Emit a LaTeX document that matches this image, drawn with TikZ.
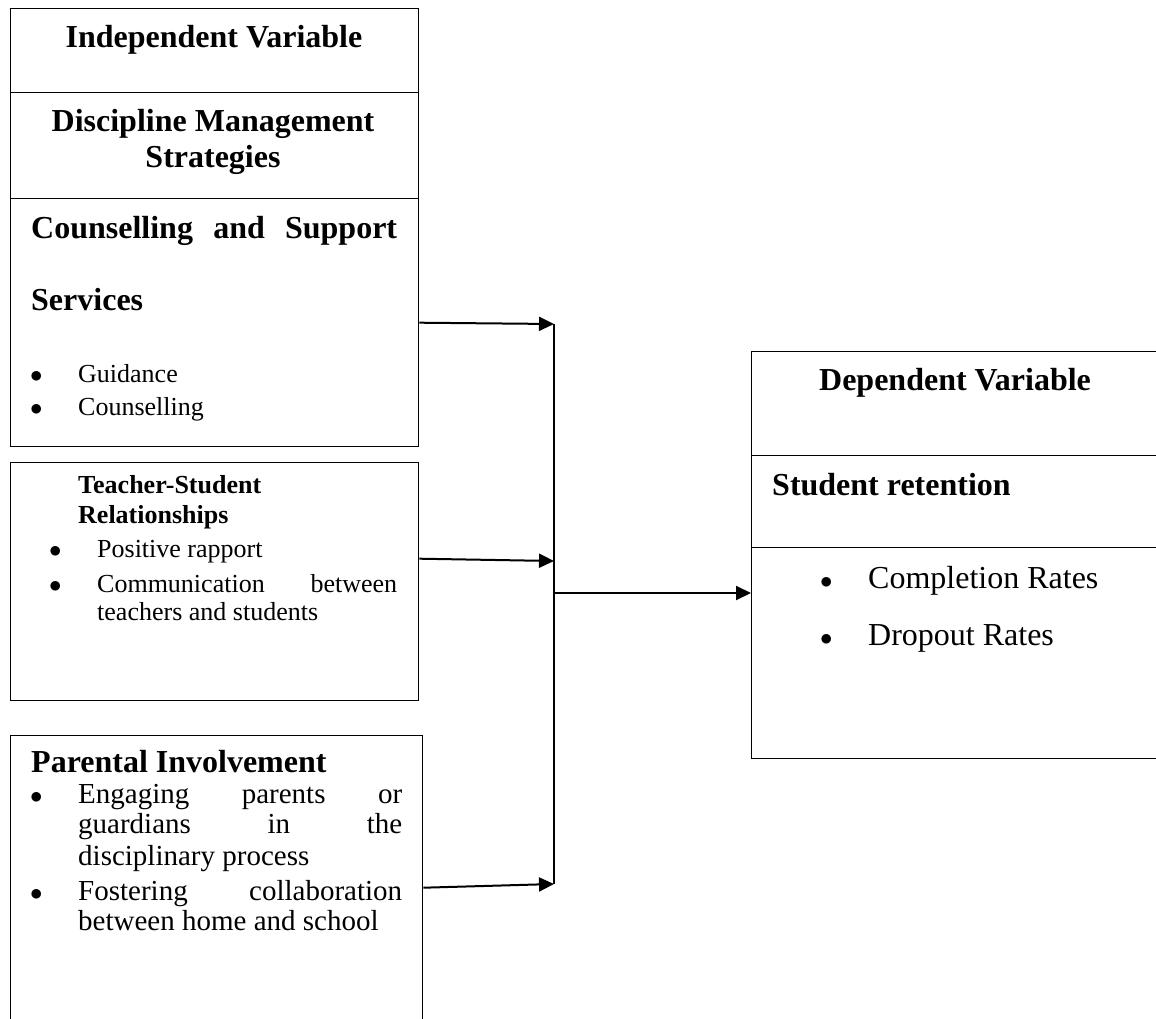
\documentclass[tikz,border=0pt]{standalone}
\usepackage{fontspec}
\setmainfont{Liberation Serif}
\usetikzlibrary{arrows.meta}

\tikzset{
  cell/.style={draw, line width=1.4pt, inner sep=0pt, anchor=north west},
  txt/.style={inner sep=0pt, anchor=base west},
  hbig/.style={font=\fontsize{32}{38}\selectfont\bfseries},
  hmid/.style={font=\fontsize{26}{31}\selectfont\bfseries},
  tmid/.style={font=\fontsize{26}{31}\selectfont},
  tpar/.style={font=\fontsize{29}{34}\selectfont},
  tbig/.style={font=\fontsize{32}{38}\selectfont},
  link/.style={line width=2pt, -{Triangle[length=15pt,width=14pt]}},
}
\newcommand{\bul}[1]{\makebox[#1][l]{$\bullet$}}

\begin{document}
\begin{tikzpicture}[x=1pt, y=-1pt]
    \useasboundingbox (0,0) rectangle (1156,1019);
    \clip (0,0) rectangle (1156,1019);

    % Cajas de la izquierda (variable independiente)
    \node[cell, minimum width=408pt, minimum height=84pt] (iv) at (10,8) {};
    \node[cell, minimum width=408pt, minimum height=106pt] (dms) at (10,92) {};
    \node[cell, minimum width=408pt, minimum height=248pt] (css) at (10,198) {};
    \node[cell, minimum width=408pt, minimum height=238pt] (trs) at (10,462) {};
    \node[cell, minimum width=412pt, minimum height=304pt] (pi) at (10,735) {};

    % Cajas de la derecha (variable dependiente), cortadas por el borde
    \node[cell, minimum width=420pt, minimum height=104pt] (dv) at (751,351) {};
    \node[cell, minimum width=420pt, minimum height=92pt] (sr) at (751,455) {};
    \node[cell, minimum width=420pt, minimum height=211pt] (srb) at (751,547) {};

    % Textos
    \node[txt, hbig, anchor=base] (ivt) at (214,48) {Independent Variable};
    \node[txt, hbig, anchor=base] (dmt1) at (213,132) {Discipline Management};
    \node[txt, hbig, anchor=base] (dmt2) at (213,168) {Strategies};

    \node[txt, hbig] (cst1) at (31,238) {\makebox[366pt][s]{Counselling and Support}};
    \node[txt, hbig] (cst2) at (31,310) {Services};
    \node[txt, tmid] (cs1) at (30,382) {\bul{48pt}Guidance};
    \node[txt, tmid] (cs2) at (30,415) {\bul{48pt}Counselling};

    \node[txt, hmid] (trt1) at (78,493) {Teacher-Student};
    \node[txt, hmid] (trt2) at (78,523) {Relationships};
    \node[txt, tmid] (tr1) at (49,557) {\bul{48pt}Positive rapport};
    \node[txt, tmid] (tr2) at (49,592) {\bul{48pt}\makebox[300pt][s]{Communication between}};
    \node[txt, tmid] (tr3) at (97,620) {teachers and students};

    \node[txt, hbig] (pit) at (31,772) {Parental Involvement};
    \node[txt, tpar] (pi1) at (30,803) {\bul{48pt}\makebox[324pt][s]{Engaging parents or}};
    \node[txt, tpar] (pi2) at (78,833) {\makebox[324pt][s]{guardians in the}};
    \node[txt, tpar] (pi3) at (78,865) {disciplinary process};
    \node[txt, tpar] (pi4) at (30,900) {\bul{48pt}\makebox[324pt][s]{Fostering collaboration}};
    \node[txt, tpar] (pi5) at (78,930) {between home and school};

    \node[txt, hbig, anchor=base] (dvt) at (955,390) {Dependent Variable};
    \node[txt, hbig] (srt) at (772,495) {Student retention};
    \node[txt, tbig] (sr1) at (820,588) {\bul{48pt}Completion Rates};
    \node[txt, tbig] (sr2) at (820,645) {\bul{48pt}Dropout Rates};

    % Conectores
    \coordinate (in1) at (554,324);
    \coordinate (in2) at (554,561);
    \coordinate (in3) at (554,884);
    \coordinate (out) at (554,593);
    \draw[link] (css.east) -- (in1);
    \draw[link] ([yshift=23pt]trs.east) -- (in2);
    \draw[link] (pi.east) -- (in3);
    \draw[line width=1.6pt] (in1) -- (in3);
    \draw[link] (out) -- (out -| srb.west);
\end{tikzpicture}
\end{document}
